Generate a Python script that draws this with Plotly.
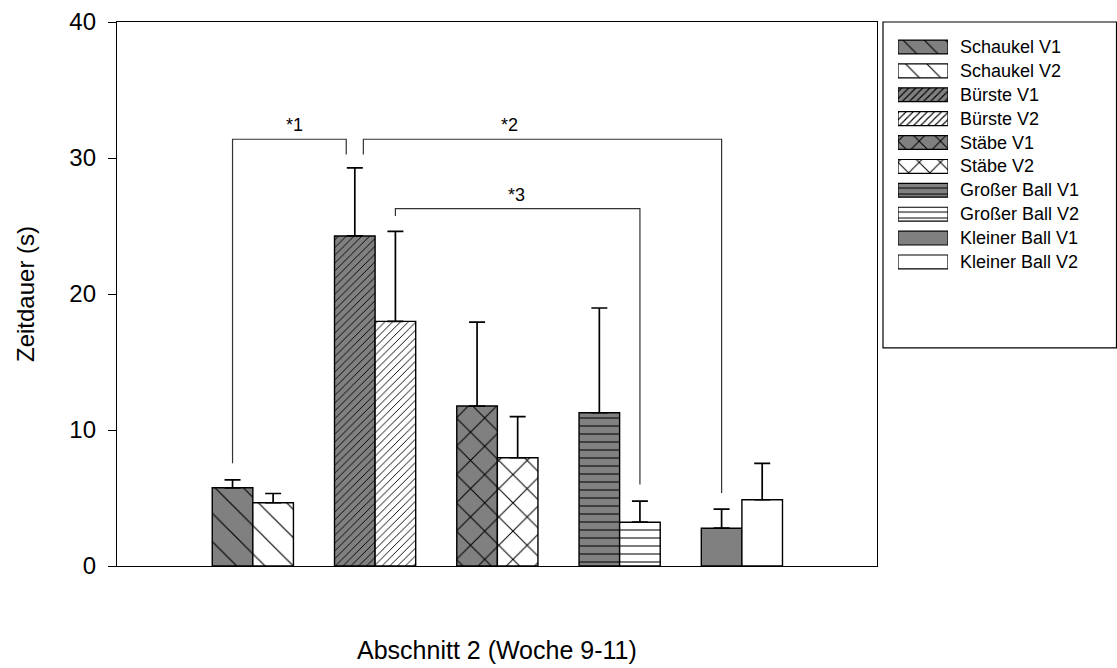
import plotly.graph_objects as go

# ---------------- data ----------------
groups = ["Schaukel", "Bürste", "Stäbe", "Großer Ball", "Kleiner Ball"]
versions = ["V1", "V2"]
v1_mean = [5.75, 24.27, 11.76, 11.27, 2.78]
v2_mean = [4.65, 17.99, 7.96, 3.22, 4.87]
v1_err = [0.59, 5.00, 6.17, 7.70, 1.40]
v2_err = [0.68, 6.62, 3.02, 1.55, 2.67]
y_ticks = [0, 10, 20, 30, 40]

# significance brackets (bar index in order Schaukel V1, Schaukel V2, Bürste V1, ...)
bracket_labels = ["*1", "*2", "*3"]
bracket_left_bar = [0, 2, 3]
bracket_right_bar = [2, 8, 7]
bracket_top = [31.38, 31.38, 26.28]
bracket_left_bottom = [7.56, 30.26, 25.74]
bracket_right_bottom = [30.26, 5.36, 6.0]
bracket_label_x = [1.34, 3.10, 3.16]

# ---------------- style ----------------
FONT = "Liberation Sans, Arial, sans-serif"
patterns = ["\\", "/", "x", "-", ""]
pattern_sizes = [20, 5.5, 20, 8, 8]
pattern_solid = [0.06, 0.17, 0.1, 0.13, 0.1]
fills = {"V1": "#808080", "V2": "#ffffff"}
BAR_W = 0.332
BR_SHIFT_L = [0.0, 0.07, 0.0]
BR_SHIFT_R = [-0.07, 0.0, 0.0]

fig = go.Figure()

bar_x = []
for gi, g in enumerate(groups):
    for vi, v in enumerate(versions):
        xpos = gi + 1 + (-BAR_W / 2 if v == "V1" else BAR_W / 2)
        bar_x.append(xpos)
        mean = (v1_mean if v == "V1" else v2_mean)[gi]
        err = (v1_err if v == "V1" else v2_err)[gi]
        pat = dict(shape=patterns[gi], size=pattern_sizes[gi], solidity=pattern_solid[gi],
                   fgcolor="black", bgcolor=fills[v], fillmode="replace")
        fig.add_trace(go.Bar(
            x=[xpos], y=[mean], width=BAR_W, name=f"{g} {v}",
            marker=dict(color=fills[v], pattern=pat, line=dict(color="black", width=1.4)),
            error_y=dict(type="data", array=[err], arrayminus=[0], symmetric=False,
                         color="black", thickness=1.7, width=8),
            showlegend=False, hoverinfo="skip",
        ))

# brackets
for k, lab in enumerate(bracket_labels):
    xl = bar_x[bracket_left_bar[k]] + BR_SHIFT_L[k]
    xr = bar_x[bracket_right_bar[k]] + BR_SHIFT_R[k]
    fig.add_trace(go.Scatter(
        x=[xl, xl, xr, xr],
        y=[bracket_left_bottom[k], bracket_top[k], bracket_top[k], bracket_right_bottom[k]],
        mode="lines", line=dict(color="#333333", width=1.2),
        showlegend=False, hoverinfo="skip",
    ))
    fig.add_annotation(x=bracket_label_x[k], y=bracket_top[k], yshift=14, text=lab,
                       showarrow=False, font=dict(family=FONT, size=18, color="black"),
                       xref="x", yref="y")

# custom legend (swatches on their own small axis)
row = 0
for gi, g in enumerate(groups):
    for v in versions:
        pat = dict(shape=patterns[gi], size=max(5, pattern_sizes[gi] * 0.75),
                   solidity=min(0.3, pattern_solid[gi] * 1.3),
                   fgcolor="black", bgcolor=fills[v], fillmode="replace")
        fig.add_trace(go.Bar(
            x=[1], y=[row], base=0, width=0.58, orientation="h",
            marker=dict(color=fills[v], pattern=pat, line=dict(color="black", width=1.2)),
            xaxis="x2", yaxis="y2", showlegend=False, hoverinfo="skip",
        ))
        fig.add_annotation(x=0.841, xref="paper", xanchor="left", y=row, yref="y2",
                           text=f"{g} {v}", showarrow=False,
                           font=dict(family=FONT, size=18, color="black"))
        row += 1

fig.add_shape(type="rect", xref="paper", yref="paper", x0=0.766, x1=0.9995,
              y0=0.401, y1=1.0, line=dict(color="black", width=1.2))

# axis titles
fig.add_annotation(x=(0 + 0.76) / 2, xref="paper", y=-0.154, yref="paper", yanchor="middle",
                   xanchor="center", text="Abschnitt 2 (Woche 9-11)", showarrow=False,
                   font=dict(family=FONT, size=25, color="black"))
fig.add_annotation(x=-0.092, xref="paper", y=0.5, yref="paper", textangle=-90,
                   xanchor="center", yanchor="middle",
                   text="Zeitdauer (s)", showarrow=False,
                   font=dict(family=FONT, size=24, color="black"))

fig.update_layout(
    width=1117, height=668,
    margin=dict(l=117, r=0, t=22, b=102),
    paper_bgcolor="white", plot_bgcolor="white",
    barmode="overlay",
    font=dict(family=FONT, color="black"),
    xaxis=dict(domain=[0, 0.76], range=[-0.111, 6.105], showgrid=False, zeroline=False,
               showline=True, linecolor="black", linewidth=1.4, mirror=True,
               ticks="", showticklabels=False),
    yaxis=dict(range=[0, 40], tickvals=y_ticks, showgrid=False, zeroline=False,
               showline=True, linecolor="black", linewidth=1.4, mirror=True,
               ticks="outside", ticklen=8, tickwidth=1.2, tickcolor="black",
               ticklabelstandoff=7,
               tickfont=dict(family=FONT, size=24, color="black")),
    xaxis2=dict(domain=[0.781, 0.831], range=[0, 1], visible=False, anchor="y2"),
    yaxis2=dict(domain=[0.537, 0.976], range=[9.5, -0.5], visible=False, anchor="x2"),
)

fig.write_html("out.html", config={"displayModeBar": False},
               post_script="document.body.style.margin='0';")
